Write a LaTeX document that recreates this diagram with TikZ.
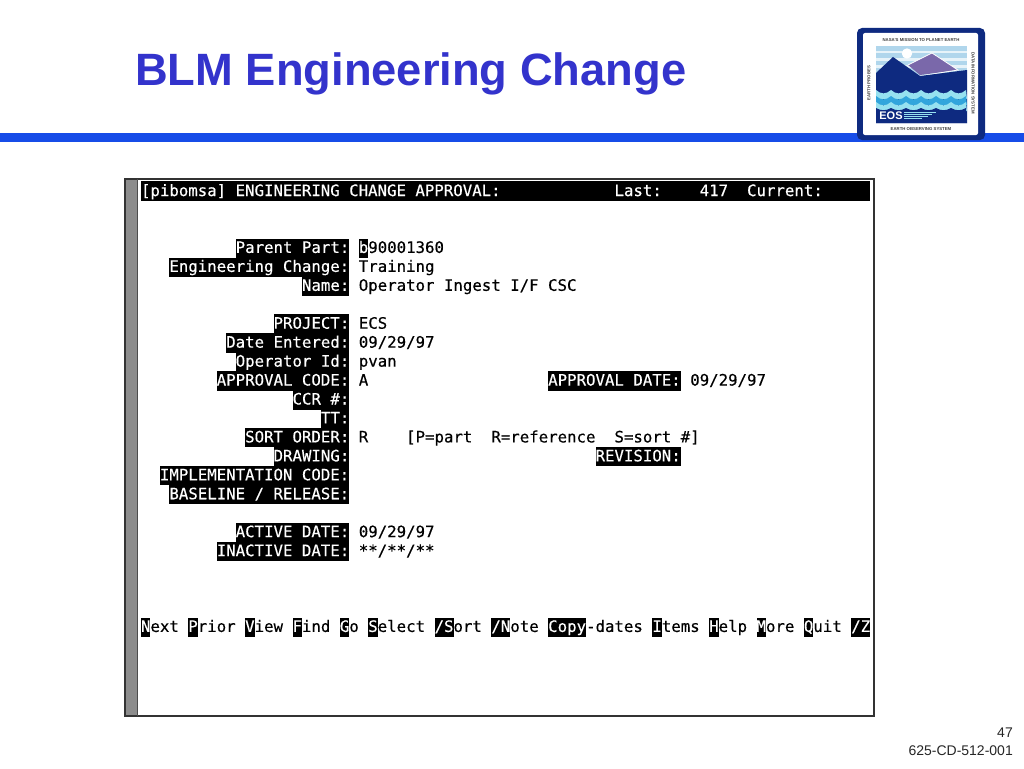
\documentclass[tikz,border=0pt]{standalone}
\usepackage{fontspec}
\setmainfont{Liberation Sans}
\newfontfamily\termfont[FakeBold=0.35]{DejaVu Sans Mono}
\definecolor{titleblue}{RGB}{51,51,204}
\definecolor{barblue}{RGB}{22,76,232}
\definecolor{logonavy}{RGB}{14,42,128}
\definecolor{logosky}{RGB}{176,214,236}
\definecolor{logopurple}{RGB}{122,104,170}
\definecolor{logocyan}{RGB}{50,165,220}
\definecolor{logolight}{RGB}{150,225,240}
\tikzset{
  termtext/.style={anchor=west,inner sep=0pt,outer sep=0pt,text height=14.3pt,text depth=5pt,
    font=\termfont\fontsize{15.72}{18}\selectfont,text=black},
  termrev/.style={termtext,fill=black,text=white},
  logotext/.style={font=\bfseries\fontsize{4.3}{5}\selectfont,text=black!75,inner sep=0pt},
  footer/.style={anchor=east,inner sep=0pt,font=\fontsize{14}{16}\selectfont,text=black!85}
}
\newcommand{\tcell}[4]{\node[termtext] (#1) at ({141+9.47*#2},{191.4+18.95*#3}) {#4};}
\newcommand{\trev}[4]{\node[termrev] (#1) at ({141+9.47*#2},{191.4+18.95*#3}) {#4};}
\begin{document}
\begin{tikzpicture}[x=1pt,y=-1pt]
\useasboundingbox (0,0) rectangle (1024,768);
\fill[white] (0,0) rectangle (1024,768);
% title and bar
\node[anchor=west,inner sep=0pt,text=titleblue,font=\bfseries\fontsize{45.3}{50}\selectfont] (title) at (135,74) {BLM Engineering Change};
\fill[barblue] (0,133) rectangle (1024,142);
% logo
\fill[logonavy,rounded corners=5pt] (857,28) rectangle (985,140);
\fill[white,rounded corners=2pt] (863,33) rectangle (978,135);
\fill[logosky] (876,46) rectangle (967,123);
\foreach \yy in {51,58,65} {\fill[white!70!logosky] (876,\yy) rectangle (967,{\yy+2.5});}
\fill[white] (907,53.5) circle (5.2);
\fill[logopurple] (908,65) -- (932,53) -- (958,70) -- (920,75) -- cycle;
\draw[white,line width=0.8pt] (908,65) -- (932,53) -- (958,70) -- (920,76);
\fill[logonavy] (876,73) -- (893,57) -- (920,76) -- (967,70) -- (967,123) -- (876,123) -- cycle;
\foreach \t/\c in {90/logolight,96/logocyan,102/logolight} {
  \fill[\c] (876,\t) \foreach \i in {0,...,5} { .. controls ({876+15*\i+5},{\t+4.5}) and ({876+15*\i+10},{\t+4.5}) .. ({876+15*\i+15},\t) } -- (967,{\t+9}) -- (876,{\t+9}) -- cycle;
}
\fill[logonavy] (876,108) \foreach \i in {0,...,5} { .. controls ({876+15*\i+5},{108+3}) and ({876+15*\i+10},{108+3}) .. ({876+15*\i+15},108) } -- (967,123) -- (876,123) -- cycle;
\foreach \yy/\xx in {111.5/936,113.8/932,116.1/928,118.4/922} {\fill[logolight] (904,\yy) rectangle (\xx,{\yy+1});}
\node[font=\bfseries\fontsize{11}{12}\selectfont,text=white,inner sep=0pt] (eos) at (891,115.5) {EOS};
\node[logotext] (logotop) at (921,40) {NASA'S MISSION TO PLANET EARTH};
\node[logotext] (logobottom) at (921,129) {EARTH OBSERVING SYSTEM};
\node[logotext,rotate=90] (logoleft) at (869,83) {EARTH PROBES};
\node[logotext,rotate=-90] (logoright) at (973,83) {DATA INFORMATION SYSTEM};
% terminal window
\fill[black!45] (125,179) rectangle (137,716);
\draw[black!80,line width=1.6pt] (125,179) rectangle (874,716);
\draw[black!70,line width=0.8pt] (137.5,179) -- (137.5,716);
% title row
\fill[black] (141,181) rectangle (870,201);
\trev{t0}{0}{0}{[pibomsa] ENGINEERING CHANGE APPROVAL:}
\trev{t1}{50}{0}{Last:}
\trev{t2}{59}{0}{417}
\trev{t3}{64}{0}{Current:}
% labels
\trev{l1}{10}{3}{Parent Part:}
\trev{l2}{3}{4}{Engineering Change:}
\trev{l3}{17}{5}{Name:}
\trev{l4}{14}{7}{PROJECT:}
\trev{l5}{9}{8}{Date Entered:}
\trev{l6}{10}{9}{Operator Id:}
\trev{l7}{8}{10}{APPROVAL CODE:}
\trev{l8}{16}{11}{CCR \#:}
\trev{l9}{19}{12}{TT:}
\trev{l10}{11}{13}{SORT ORDER:}
\trev{l11}{14}{14}{DRAWING:}
\trev{l12}{2}{15}{IMPLEMENTATION CODE:}
\trev{l13}{3}{16}{BASELINE / RELEASE:}
\trev{l14}{10}{18}{ACTIVE DATE:}
\trev{l15}{8}{19}{INACTIVE DATE:}
\trev{l16}{43}{10}{APPROVAL DATE:}
\trev{l17}{48}{14}{REVISION:}
% values
\trev{v1a}{23}{3}{b}
\tcell{v1b}{24}{3}{90001360}
\tcell{v2}{23}{4}{Training}
\tcell{v3}{23}{5}{Operator Ingest I/F CSC}
\tcell{v4}{23}{7}{ECS}
\tcell{v5}{23}{8}{09/29/97}
\tcell{v6}{23}{9}{pvan}
\tcell{v7}{23}{10}{A}
\tcell{v16}{58}{10}{09/29/97}
\tcell{v10a}{23}{13}{R}
\tcell{v10b}{28}{13}{[P=part}
\tcell{v10c}{37}{13}{R=reference}
\tcell{v10d}{50}{13}{S=sort \#]}
\tcell{v14}{23}{18}{09/29/97}
\tcell{v15}{23}{19}{**/**/**}
% menu row
\trev{m1a}{0}{23}{N}\tcell{m1b}{1}{23}{ext}
\trev{m2a}{5}{23}{P}\tcell{m2b}{6}{23}{rior}
\trev{m3a}{11}{23}{V}\tcell{m3b}{12}{23}{iew}
\trev{m4a}{16}{23}{F}\tcell{m4b}{17}{23}{ind}
\trev{m5a}{21}{23}{G}\tcell{m5b}{22}{23}{o}
\trev{m6a}{24}{23}{S}\tcell{m6b}{25}{23}{elect}
\trev{m7a}{31}{23}{/S}\tcell{m7b}{33}{23}{ort}
\trev{m8a}{37}{23}{/N}\tcell{m8b}{39}{23}{ote}
\trev{m9a}{43}{23}{Copy}\tcell{m9b}{47}{23}{-dates}
\trev{m10a}{54}{23}{I}\tcell{m10b}{55}{23}{tems}
\trev{m11a}{60}{23}{H}\tcell{m11b}{61}{23}{elp}
\trev{m12a}{65}{23}{M}\tcell{m12b}{66}{23}{ore}
\trev{m13a}{70}{23}{Q}\tcell{m13b}{71}{23}{uit}
\trev{m14a}{75}{23}{/Z}
% footer
\node[footer] (pagenum) at (1013,733) {47};
\node[footer] (docnum) at (1013,751) {625-CD-512-001};
\end{tikzpicture}
\end{document}
